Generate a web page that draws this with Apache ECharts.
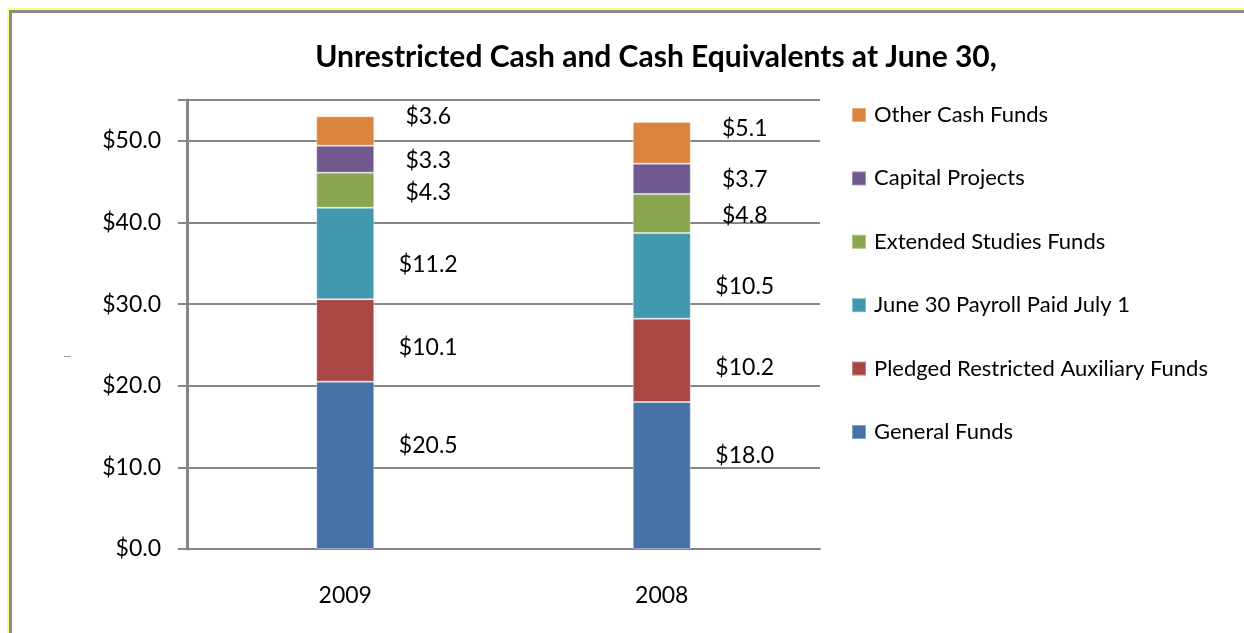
<!DOCTYPE html>
<html>
<head>
<meta charset="utf-8">
<script src="https://cdn.jsdelivr.net/npm/echarts@6/dist/echarts.min.js"></script>
<style>
  html, body { margin: 0; padding: 0; background: #fff; }
  #chart { width: 1244px; height: 633px; }
</style>
</head>
<body>
<div id="chart"></div>
<script>
// data
var years = ['2009', '2008'];
var seriesNames = ['General Funds', 'Pledged Restricted Auxiliary Funds', 'June 30 Payroll Paid July 1',
  'Extended Studies Funds', 'Capital Projects', 'Other Cash Funds'];
var generalFunds = [20.5, 18.0];
var pledgedFunds = [10.1, 10.2];
var payrollFunds = [11.2, 10.5];
var extendedFunds = [4.3, 4.8];
var capitalFunds = [3.3, 3.7];
var otherFunds = [3.6, 5.1];
var yTicks = [0, 10, 20, 30, 40, 50];

var colors = ['#4572a7', '#aa4643', '#4198af', '#89a54e', '#71588f', '#db843d'];
// labels sit a bit off the segment middles in the original
var labelDy = [-20, 7, 11, 2, 1, -14];
var fontFam = 'Lato, "Open Sans", sans-serif';
var allData = [generalFunds, pledgedFunds, payrollFunds, extendedFunds, capitalFunds, otherFunds];

var chart = echarts.init(document.getElementById('chart'));

var series = allData.map(function (vals, i) {
  return {
    name: seriesNames[i],
    type: 'bar',
    stack: 'cash',
    barWidth: 58,
    data: vals,
    itemStyle: { color: colors[i], borderColor: 'rgba(255,255,255,0.35)', borderWidth: 1 },
    label: {
      show: true,
      position: 'inside',
      offset: [83, labelDy[i]],
      fontFamily: fontFam,
      fontSize: 23,
      color: '#000',
      formatter: function (p) { return '$' + p.value.toFixed(1); }
    }
  };
});

chart.setOption({
  animation: false,
  color: colors,
  title: {
    text: 'Unrestricted Cash and Cash Equivalents at June 30,',
    left: 656,
    textAlign: 'center',
    top: 42,
    padding: 0,
    textStyle: { fontFamily: fontFam, fontSize: 30, fontWeight: 'bold', color: '#000' }
  },
  legend: {
    orient: 'vertical',
    left: 851,
    top: 104,
    padding: 0,
    itemWidth: 14,
    itemHeight: 14,
    itemGap: 41.4,
    icon: 'rect',
    data: seriesNames.slice().reverse(),
    textStyle: { fontFamily: fontFam, fontSize: 22, color: '#000', padding: [0, 0, 0, 3] }
  },
  grid: { left: 187, right: 424, top: 100, bottom: 84 },
  xAxis: {
    type: 'category',
    data: years,
    axisLine: { lineStyle: { color: '#868686', width: 2 } },
    axisTick: { show: false },
    axisLabel: { fontFamily: fontFam, fontSize: 23, color: '#000', margin: 35 }
  },
  yAxis: {
    type: 'value',
    min: 0,
    max: 55,
    interval: 10,
    axisLine: { show: true, lineStyle: { color: '#868686', width: 3 } },
    axisTick: { show: true, length: 9, lineStyle: { color: '#868686', width: 2 } },
    splitLine: { lineStyle: { color: '#868686', width: 2 } },
    axisLabel: {
      fontFamily: fontFam, fontSize: 23, color: '#000', margin: 26,
      formatter: function (v) { return yTicks.indexOf(v) >= 0 ? '$' + v.toFixed(1) : ''; }
    }
  },
  graphic: [
    { type: 'line', shape: { x1: 8, y1: 9, x2: 1244, y2: 9 }, style: { stroke: '#ffff00', lineWidth: 1 } },
    { type: 'line', shape: { x1: 8, y1: 9, x2: 8, y2: 633 }, style: { stroke: '#ffff00', lineWidth: 1 } },
    { type: 'rect', shape: { x: 9, y: 10, width: 1235, height: 3 }, style: { fill: '#8c8c8c' } },
    { type: 'rect', shape: { x: 9, y: 10, width: 3, height: 623 }, style: { fill: '#8c8c8c' } },
    { type: 'line', shape: { x1: 64, y1: 356.5, x2: 71, y2: 356.5 }, style: { stroke: '#9a9a9a', lineWidth: 1 } }
  ],
  series: series
});
</script>
</body>
</html>
